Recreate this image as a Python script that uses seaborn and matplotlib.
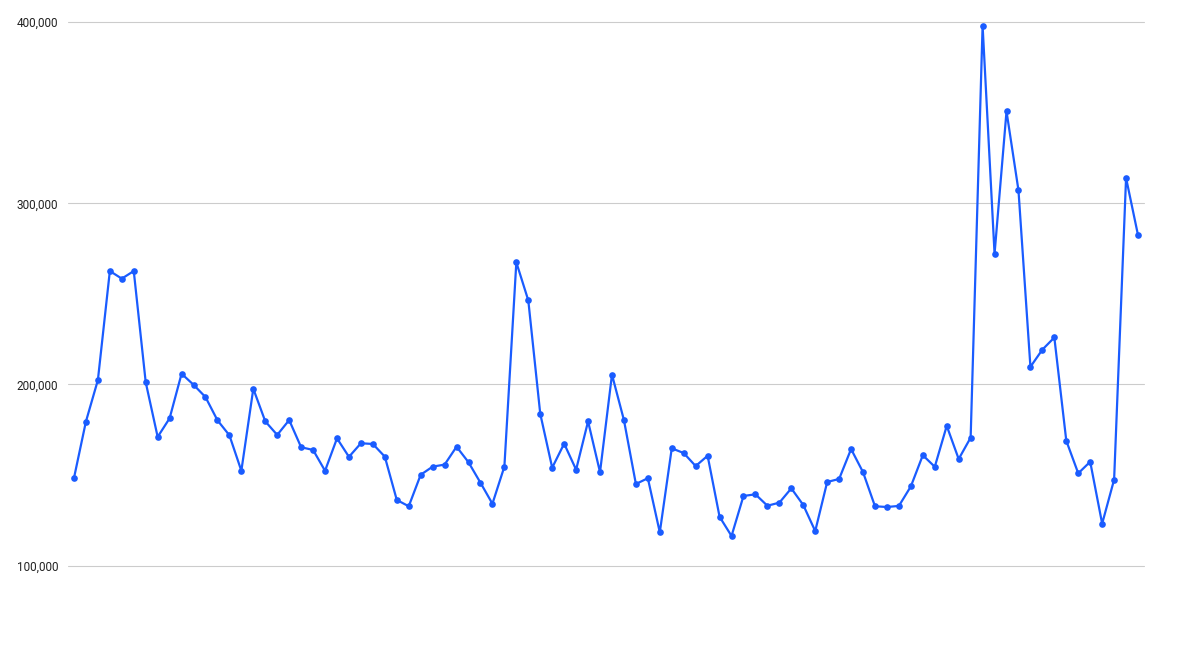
import numpy as np
import pandas as pd
import seaborn as sns
import matplotlib.pyplot as plt
from matplotlib.ticker import FuncFormatter

# values, one per point
values = [
    148300, 179500, 202400, 262600, 258400, 262600, 201200, 171000, 181300, 205900,
    199800, 193000, 180200, 171900, 152300, 197600, 179600, 172100, 180300, 165300,
    163800, 152300, 170200, 160000, 167500, 167100, 160100, 136200, 132700, 150100,
    154600, 155700, 165600, 157000, 145700, 134100, 154600, 267400, 246400, 183800,
    154000, 167300, 152900, 179600, 151500, 205400, 180300, 145000, 148200, 118300,
    164700, 162100, 154900, 160600, 126900, 116300, 138400, 139300, 133000, 134700,
    142600, 133400, 119000, 146100, 147800, 164300, 151500, 132700, 132300, 132900,
    143700, 160900, 154500, 177100, 158800, 170600, 398000, 272100, 350800, 307200,
    209700, 219200, 225900, 168900, 150900, 157300, 123100, 147400, 314000, 282400,
]
y_ticks = [100000, 200000, 300000, 400000]

df = pd.DataFrame({'idx': np.arange(len(values)), 'value': values})

sns.set_style('white')
plt.rcParams['font.family'] = ['Roboto', 'DejaVu Sans']

# axis runs from 70k (y=619.8 px) to 400k (y=22.2 px); only 100k..400k are labelled
px_per_unit = (565.5 - 22.2) / 300000
bottom_px = 565.5 + 30000 * px_per_unit
fig = plt.figure(figsize=(11.89, 6.56), dpi=100)
ax = fig.add_axes([68 / 1189, 1 - bottom_px / 656, (1144 - 68) / 1189, (bottom_px - 22.2) / 656])

sns.lineplot(data=df, x='idx', y='value', ax=ax, color='#1a5cff', linewidth=1.6,
             marker='o', markersize=4.8, markeredgewidth=0, clip_on=False)

ax.set_xlim(-0.5, len(values) - 0.5)
ax.set_ylim(70000, 400000)
ax.set_yticks(y_ticks)
ax.yaxis.set_major_formatter(FuncFormatter(lambda v, p: f'{int(v):,}'))
ax.set_xticks([])
ax.grid(axis='y', color='#cccccc', linewidth=0.8)
for gl in ax.get_ygridlines():
    gl.set_clip_on(False)
ax.set_axisbelow(True)
ax.tick_params(axis='y', length=0, pad=7, labelsize=8.5, labelcolor='#222222')
for s in ax.spines.values():
    s.set_visible(False)
ax.set_xlabel('')
ax.set_ylabel('')

fig.savefig('out.png', dpi=100)
